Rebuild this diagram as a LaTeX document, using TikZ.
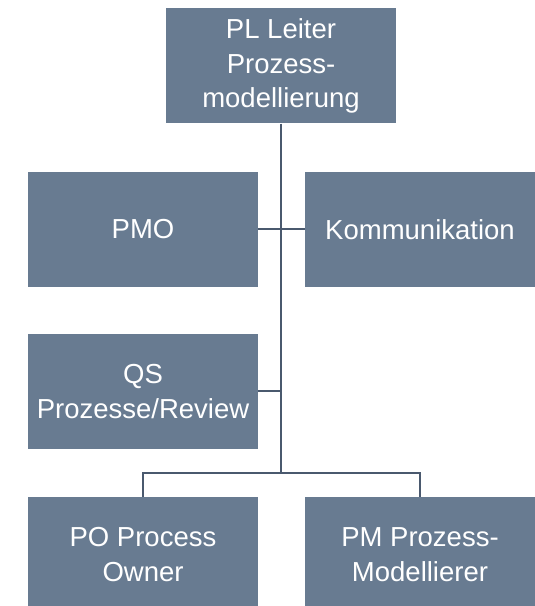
\documentclass[tikz,border=0pt]{standalone}
\usepackage{fontspec}
\setmainfont{Liberation Sans}
\definecolor{boxblue}{RGB}{104,123,145}
\definecolor{linkblue}{RGB}{74,89,110}

\begin{document}
\begin{tikzpicture}[x=1pt, y=1pt,
    rolebox/.style={fill=boxblue, text=white, minimum width=230pt, minimum height=115pt,
        inner sep=0pt, align=center, font=\fontsize{27.5}{34.5}\selectfont},
    link/.style={draw=linkblue, line width=2pt}]
            \useasboundingbox (0,0) rectangle (535,606);
            \node[rolebox] (PL) at (281,540) {PL Leiter\\Prozess-\\modellierung};
            \node[rolebox] (PMO) at (143,376.5) {PMO};
            \node[rolebox] (KOM) at (420,376.5) {Kommunikation};
            \node[rolebox] (QS) at (143,214.5) {QS\\Prozesse/Review};
            \node[rolebox] (PO) at (143,51.5) {PO Process\\Owner};
            \node[rolebox] (PM) at (420,51.5) {PM Prozess-\\Modellierer};
            \coordinate (bus) at (281,133);
            
            \draw[link] (PL.south) -- (bus);
            \draw[link] (PMO.east) -- (KOM.west);
            \draw[link] (QS.east) -- (QS.east -| bus);
            \draw[link] (PO.north) -- (PO |- bus) -- (PM |- bus) -- (PM.north);
        \end{tikzpicture}
\end{document}
